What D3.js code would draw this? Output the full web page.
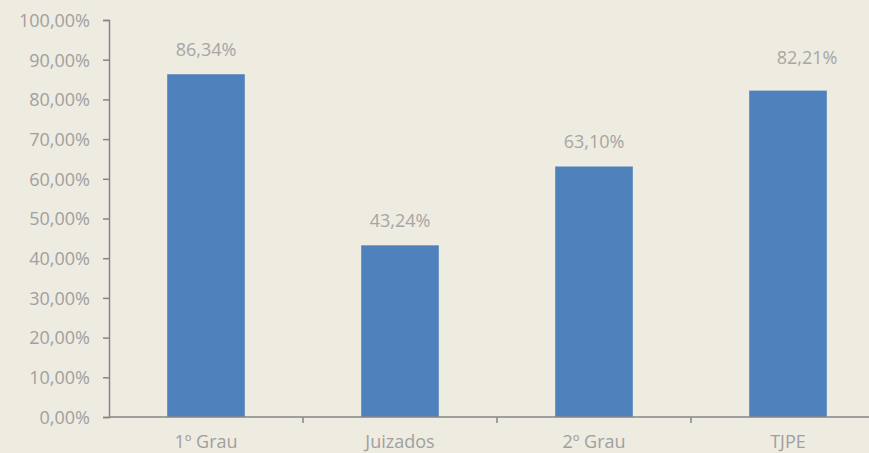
<!DOCTYPE html>
<html>
<head>
<meta charset="utf-8">
<script src="https://cdn.jsdelivr.net/npm/d3@7"></script>
<style>
  body { margin: 0; background: #EEEBE0; }
  svg text { font-family: "Open Sans", "Noto Sans", sans-serif; }
  .axis text { fill: #A0A0A0; font-size: 18px; }
  .axis path, .axis line { stroke: #868686; stroke-width: 1.5; }
</style>
</head>
<body>
<svg width="869" height="453"></svg>
<script>
const categories = ["1º Grau", "Juizados", "2º Grau", "TJPE"];
const values = [86.34, 43.24, 63.10, 82.21];
const yTicks = [0, 10, 20, 30, 40, 50, 60, 70, 80, 90, 100];

const margin = {top: 20, right: -16, bottom: 36, left: 109};

const svg = d3.select("svg"),
    width = +svg.attr("width") - margin.left - margin.right,
    height = +svg.attr("height") - margin.top - margin.bottom;

svg.append("rect").attr("width", 869).attr("height", 453).attr("fill", "#EEEBE0");

const g = svg.append("g").attr("transform", `translate(${margin.left},${margin.top})`);

const x = d3.scaleBand()
    .domain(categories)
    .range([0, width])
    .paddingInner(0.6)
    .paddingOuter(0.3);

const y = d3.scaleLinear()
    .domain([0, 100])
    .range([height, 0]);

const fmt = v => d3.format(".2f")(v).replace(".", ",") + "%";

// y axis
const yAxis = g.append("g")
    .attr("class", "axis axis--y")
    .call(d3.axisLeft(y).tickValues(yTicks).tickFormat(fmt).tickSize(6).tickSizeOuter(6).tickPadding(13));
yAxis.attr("font-family", null).attr("font-size", null);
yAxis.selectAll("text").attr("dy", "0.35em");

// bars
g.selectAll(".bar")
    .data(values)
    .enter().append("rect")
    .attr("class", "bar")
    .attr("x", (d, i) => x(categories[i]))
    .attr("y", d => y(d))
    .attr("width", x.bandwidth())
    .attr("height", d => height - y(d))
    .attr("fill", "#4F81BD");

// x axis: ticks between categories
const step = x.step();
const xAxis = g.append("g")
    .attr("class", "axis axis--x")
    .attr("transform", `translate(0,${height})`);
xAxis.append("line")
    .attr("x1", 0).attr("x2", width)
    .attr("y1", 0).attr("y2", 0);
xAxis.selectAll(".tick")
    .data(d3.range(categories.length))
    .enter().append("line")
    .attr("x1", i => x(categories[i]) - x.paddingInner() * step / 2 + step)
    .attr("x2", i => x(categories[i]) - x.paddingInner() * step / 2 + step)
    .attr("y1", 0).attr("y2", 6);
xAxis.selectAll(".lbl")
    .data(categories)
    .enter().append("text")
    .attr("x", d => x(d) + x.bandwidth() / 2)
    .attr("y", 31)
    .attr("text-anchor", "middle")
    .text(d => d);

// value labels (TJPE label was nudged in the original)
const nudge = [[0, 0], [0, 0], [0, 0], [19, -9]];
g.selectAll(".val")
    .data(values)
    .enter().append("text")
    .attr("x", (d, i) => x(categories[i]) + x.bandwidth() / 2 + nudge[i][0])
    .attr("y", (d, i) => y(d) - 18 + nudge[i][1])
    .attr("text-anchor", "middle")
    .attr("fill", "#A6A6A6")
    .attr("font-size", "18px")
    .text(d => fmt(d));
</script>
</body>
</html>
